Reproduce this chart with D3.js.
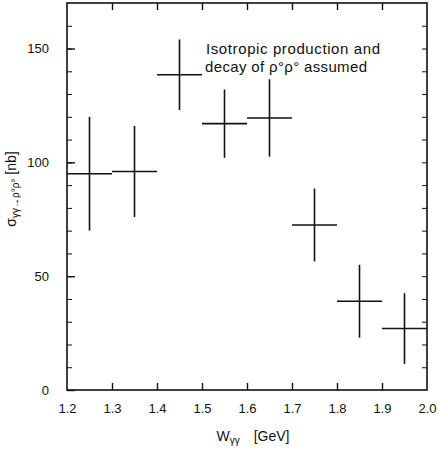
<!DOCTYPE html>
<html>
<head>
<meta charset="utf-8">
<script src="https://cdn.jsdelivr.net/npm/d3@7"></script>
<style>
  body { margin: 0; background: #fff; }
  svg { font-family: "Liberation Sans", "DejaVu Sans", sans-serif; }
  .axis path, .axis line { stroke: #111; }
  .axis text { fill: #111; font-size: 13px; }
</style>
</head>
<body>
<div id="chart"></div>
<script>
// bin centres, bin half-widths, cross sections and errors
const binCentres = [1.25, 1.35, 1.45, 1.55, 1.65, 1.75, 1.85, 1.95];
const binHalfWidths = [0.05, 0.05, 0.05, 0.05, 0.05, 0.05, 0.05, 0.05];
const sigma = [95, 96, 138.5, 117, 119.5, 72.5, 39, 27];
const sigmaErr = [25, 20, 15.5, 15, 17, 16, 16, 15.5];
const xTicks = [1.2, 1.3, 1.4, 1.5, 1.6, 1.7, 1.8, 1.9, 2.0];
const yTicks = [0, 50, 100, 150];

const W = 438, H = 453;
const margin = { top: 3, right: 11, bottom: 63, left: 67 };
const width = W - margin.left - margin.right;
const height = H - margin.top - margin.bottom;

const svg = d3.select('#chart').append('svg')
    .attr('width', W)
    .attr('height', H);

const g = svg.append('g')
    .attr('transform', `translate(${margin.left},${margin.top})`);

const x = d3.scaleLinear().domain([1.2, 2.0]).range([0, width]);
const y = d3.scaleLinear().domain([0, 170]).range([height, 0]);

const minorY = d3.range(0, 170, 10);
const innerX = xTicks.slice(1, -1);

// frame
g.append('rect')
    .attr('width', width)
    .attr('height', height)
    .attr('fill', 'none')
    .attr('stroke', '#111')
    .attr('stroke-width', 1.6);

// left axis: minor ticks inward, major labelled
g.append('g')
    .attr('class', 'axis')
    .call(d3.axisLeft(y).tickValues(minorY).tickSize(-5).tickFormat(''))
    .call(a => a.select('.domain').remove());
g.append('g')
    .attr('class', 'axis')
    .call(d3.axisLeft(y).tickValues(yTicks).tickSize(-8).tickPadding(18).tickFormat(d3.format('d')))
    .call(a => a.select('.domain').remove())
    .call(a => a.selectAll('line').attr('stroke-width', 1.4))
    .call(a => a.selectAll('text').attr('font-size', 14.5));

// right axis ticks
g.append('g')
    .attr('class', 'axis')
    .attr('transform', `translate(${width},0)`)
    .call(d3.axisRight(y).tickValues(minorY.slice(1)).tickSize(-5).tickFormat(''))
    .call(a => a.select('.domain').remove());

// bottom axis
g.append('g')
    .attr('class', 'axis')
    .attr('transform', `translate(0,${height})`)
    .call(d3.axisBottom(x).tickValues(innerX).tickSize(-7).tickFormat(''))
    .call(a => a.select('.domain').remove())
    .call(a => a.selectAll('line').attr('stroke-width', 1.4));
g.append('g')
    .attr('class', 'axis')
    .attr('transform', `translate(0,${height})`)
    .call(d3.axisBottom(x).tickValues(xTicks).tickSize(0).tickPadding(14).tickFormat(d3.format('.1f')))
    .call(a => a.select('.domain').remove())
    .call(a => a.selectAll('text').attr('font-size', 14));

// top axis ticks
g.append('g')
    .attr('class', 'axis')
    .call(d3.axisTop(x).tickValues(innerX).tickSize(-7).tickFormat(''))
    .call(a => a.select('.domain').remove())
    .call(a => a.selectAll('line').attr('stroke-width', 1.4));

// error crosses
const pts = binCentres.map((c, i) => ({ c, hw: binHalfWidths[i], v: sigma[i], e: sigmaErr[i] }));
const cross = g.append('g').attr('stroke', '#111').attr('stroke-width', 1.6);
cross.selectAll('.hbar').data(pts).enter().append('line')
    .attr('class', 'hbar')
    .attr('x1', d => x(d.c - d.hw))
    .attr('x2', d => x(d.c + d.hw))
    .attr('y1', d => y(d.v))
    .attr('y2', d => y(d.v));
cross.selectAll('.vbar').data(pts).enter().append('line')
    .attr('class', 'vbar')
    .attr('x1', d => x(d.c))
    .attr('x2', d => x(d.c))
    .attr('y1', d => y(d.v + d.e))
    .attr('y2', d => y(d.v - d.e));

// annotation
const note = g.append('text')
    .attr('font-size', 15)
    .attr('fill', '#111');
note.append('tspan').attr('x', 139).attr('y', 51)
    .attr('textLength', 174).attr('lengthAdjust', 'spacing')
    .text('Isotropic production and');
note.append('tspan').attr('x', 138).attr('y', 69)
    .attr('textLength', 162).attr('lengthAdjust', 'spacing')
    .text('decay of ρ°ρ° assumed');

// x label
const xl = svg.append('text')
    .attr('x', 253)
    .attr('y', 441)
    .attr('text-anchor', 'middle')
    .attr('font-size', 14)
    .attr('fill', '#111');
xl.append('tspan').text('W');
xl.append('tspan').attr('font-size', 10).attr('dy', 3).text('γγ');
xl.append('tspan').attr('dy', -3).attr('dx', 14).text('[GeV]');

// y label
const yl = svg.append('text')
    .attr('transform', 'translate(16,189) rotate(-90)')
    .attr('text-anchor', 'middle')
    .attr('font-size', 14)
    .attr('fill', '#111');
yl.append('tspan').text('σ');
yl.append('tspan').attr('font-size', 10).attr('dy', 3).text('γγ→ρ°ρ°');
yl.append('tspan').attr('dy', -3).attr('dx', 4).text('[nb]');
</script>
</body>
</html>
